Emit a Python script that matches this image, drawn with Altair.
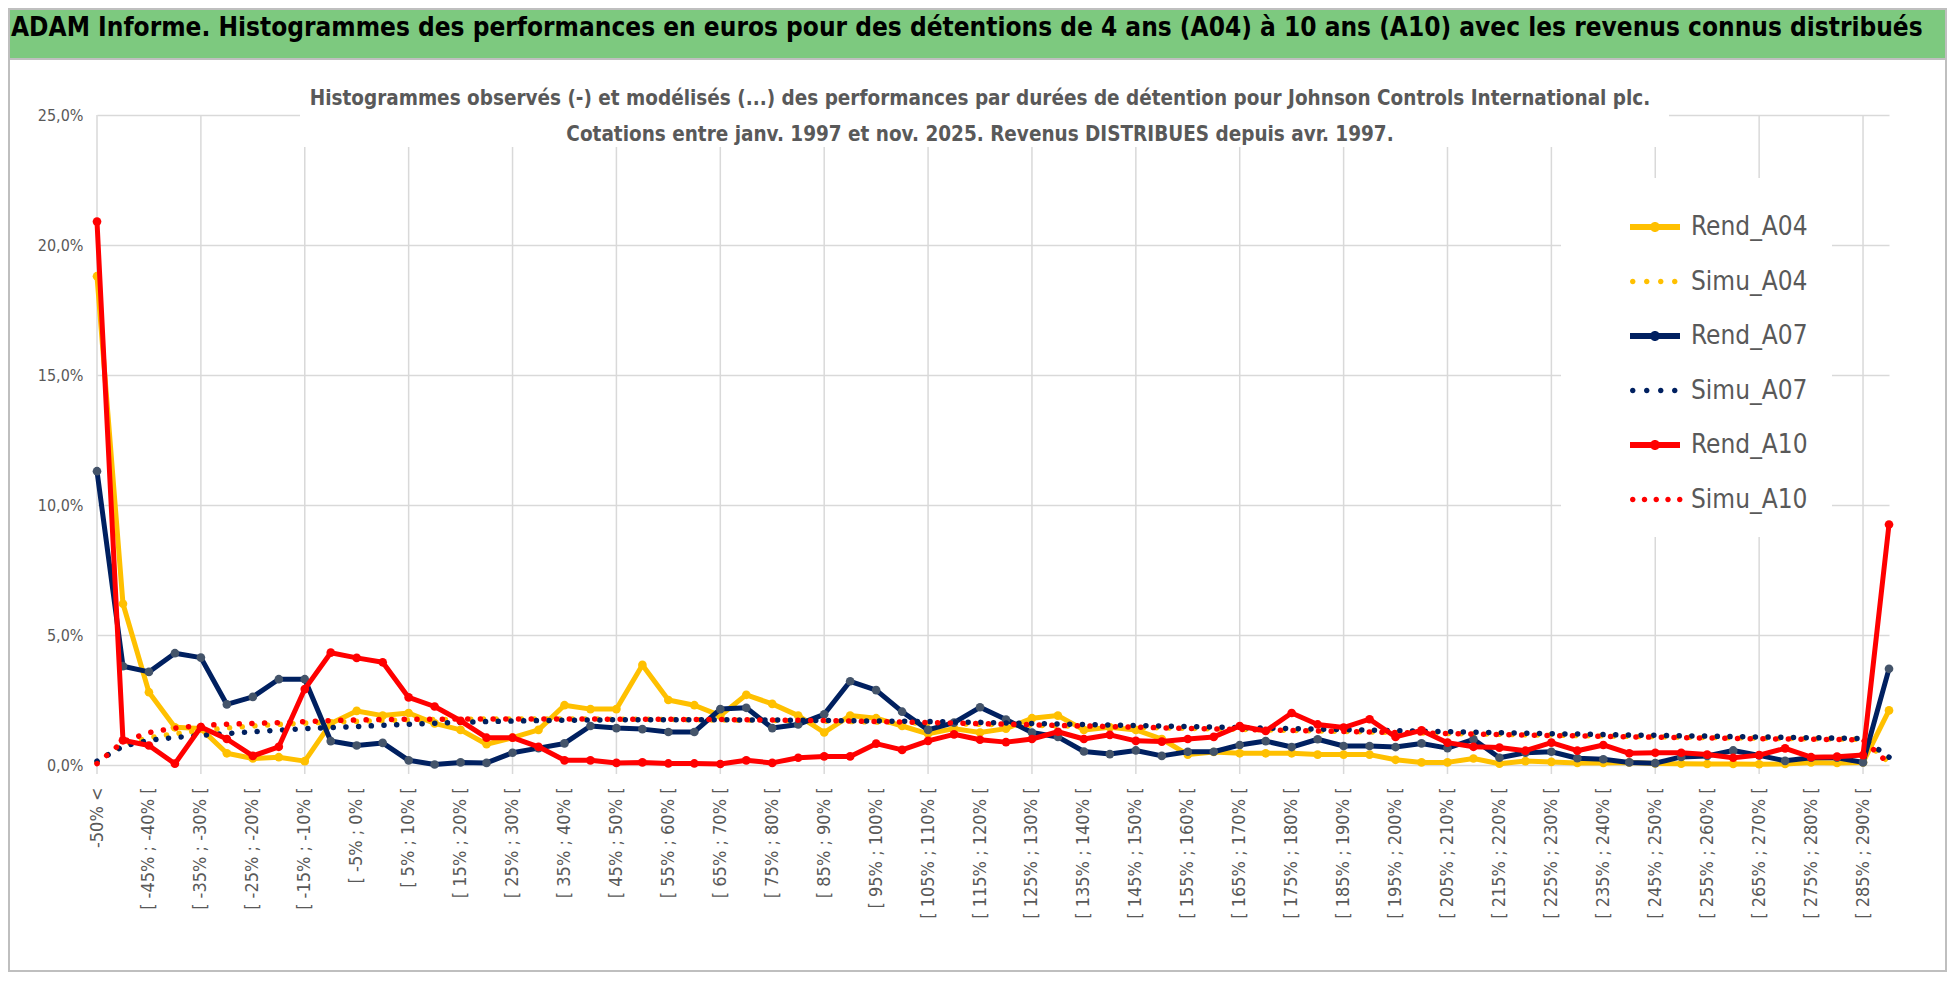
import altair as alt
import pandas as pd

FONT = "Liberation Sans Narrow, DejaVu Sans Condensed, Arial Narrow, sans-serif"

TITLE = ("ADAM Informe. Histogrammes des performances en euros pour des détentions "
         "de 4 ans (A04) à 10 ans (A10) avec les revenus connus distribués")
SUBTITLE = [
    "Histogrammes observés (-) et modélisés (...) des performances par durées de détention pour Johnson Controls International plc.",
    "Cotations entre janv. 1997 et nov. 2025. Revenus DISTRIBUES depuis avr. 1997.",
]

categories = ["-50% <"] + [f"[ {a}% ; {a + 5}% [" for a in range(-50, 290, 5)] + ["290% <"]

series_names = ["Rend_A04", "Simu_A04", "Rend_A07", "Simu_A07", "Rend_A10", "Simu_A10"]
series_colors = ["#FFC000", "#FFC000", "#002060", "#002060", "#FF0000", "#FF0000"]

rend_a04 = [18.8, 6.2, 2.8, 1.45, 1.4, 0.45, 0.25, 0.3, 0.15, 1.6,
            2.08, 1.9, 2.0, 1.6, 1.35, 0.8, 1.05, 1.35, 2.3, 2.15,
            2.15, 3.85, 2.5, 2.3, 1.9, 2.7, 2.35, 1.9, 1.25, 1.9,
            1.8, 1.5, 1.2, 1.4, 1.25, 1.4, 1.8, 1.9, 1.35, 1.45,
            1.35, 1.0, 0.4, 0.5, 0.45, 0.45, 0.45, 0.4, 0.4, 0.4,
            0.2, 0.1, 0.1, 0.25, 0.05, 0.15, 0.12, 0.08, 0.08, 0.1,
            0.06, 0.05, 0.04, 0.04, 0.03, 0.04, 0.1, 0.08, 0.1, 2.1]
simu_a04 = [0.1, 0.8, 1.05, 1.2, 1.32, 1.42, 1.5, 1.56, 1.61, 1.65,
            1.68, 1.71, 1.73, 1.75, 1.76, 1.77, 1.77, 1.77, 1.77, 1.77,
            1.76, 1.76, 1.75, 1.74, 1.73, 1.72, 1.71, 1.7, 1.68, 1.67,
            1.65, 1.63, 1.61, 1.59, 1.57, 1.55, 1.53, 1.51, 1.49, 1.47,
            1.45, 1.43, 1.41, 1.39, 1.37, 1.35, 1.33, 1.31, 1.29, 1.27,
            1.25, 1.23, 1.21, 1.2, 1.18, 1.16, 1.15, 1.13, 1.12, 1.1,
            1.09, 1.07, 1.06, 1.05, 1.03, 1.02, 1.01, 1.0, 0.98, 0.1]
rend_a07 = [11.3, 3.8, 3.58, 4.3, 4.13, 2.33, 2.62, 3.3, 3.3, 0.92,
            0.75, 0.85, 0.18, 0.02, 0.1, 0.08, 0.47, 0.65, 0.83, 1.5,
            1.42, 1.38, 1.27, 1.27, 2.15, 2.2, 1.42, 1.56, 1.95, 3.22,
            2.88, 2.05, 1.35, 1.63, 2.22, 1.75, 1.25, 1.08, 0.52, 0.42,
            0.56, 0.35, 0.51, 0.51, 0.77, 0.92, 0.69, 0.99, 0.73, 0.73,
            0.69, 0.83, 0.65, 0.99, 0.28, 0.47, 0.51, 0.26, 0.22, 0.1,
            0.07, 0.31, 0.35, 0.56, 0.37, 0.16, 0.28, 0.28, 0.1, 3.7]
simu_a07 = [0.15, 0.72, 0.95, 1.06, 1.14, 1.21, 1.28, 1.34, 1.4, 1.44,
            1.48, 1.53, 1.57, 1.61, 1.64, 1.67, 1.69, 1.71, 1.72, 1.73,
            1.74, 1.74, 1.74, 1.74, 1.74, 1.73, 1.73, 1.72, 1.71, 1.7,
            1.69, 1.68, 1.67, 1.65, 1.64, 1.62, 1.6, 1.58, 1.56, 1.54,
            1.52, 1.5, 1.48, 1.46, 1.44, 1.42, 1.4, 1.38, 1.36, 1.34,
            1.32, 1.3, 1.28, 1.26, 1.24, 1.22, 1.2, 1.19, 1.17, 1.15,
            1.14, 1.12, 1.11, 1.09, 1.08, 1.06, 1.05, 1.03, 1.02, 0.3]
rend_a10 = [20.9, 0.95, 0.75, 0.05, 1.46, 1.0, 0.35, 0.7, 2.92, 4.32,
            4.12, 3.95, 2.6, 2.25, 1.7, 1.05, 1.05, 0.7, 0.18, 0.18,
            0.08, 0.1, 0.06, 0.06, 0.04, 0.18, 0.08, 0.28, 0.33, 0.33,
            0.82, 0.58, 0.93, 1.18, 0.97, 0.88, 1.0, 1.28, 1.0, 1.16,
            0.93, 0.9, 1.0, 1.08, 1.5, 1.31, 2.0, 1.56, 1.44, 1.76,
            1.08, 1.33, 0.86, 0.7, 0.67, 0.55, 0.86, 0.55, 0.77, 0.45,
            0.47, 0.47, 0.4, 0.28, 0.38, 0.64, 0.3, 0.32, 0.38, 9.25]
simu_a10 = [0.05, 0.9, 1.25, 1.42, 1.52, 1.57, 1.6, 1.63, 1.67, 1.71,
            1.73, 1.75, 1.76, 1.76, 1.77, 1.77, 1.77, 1.77, 1.77, 1.77,
            1.76, 1.76, 1.76, 1.75, 1.75, 1.74, 1.73, 1.72, 1.71, 1.69,
            1.67, 1.65, 1.63, 1.61, 1.59, 1.57, 1.55, 1.52, 1.5, 1.48,
            1.46, 1.43, 1.41, 1.39, 1.37, 1.35, 1.33, 1.31, 1.29, 1.27,
            1.25, 1.23, 1.21, 1.19, 1.17, 1.15, 1.13, 1.12, 1.1, 1.08,
            1.07, 1.05, 1.04, 1.02, 1.01, 1.0, 0.99, 0.98, 0.96, 0.05]

series_values = [rend_a04, simu_a04, rend_a07, simu_a07, rend_a10, simu_a10]

rows = []
for name, vals in zip(series_names, series_values):
    for i, (c, v) in enumerate(zip(categories, vals)):
        rows.append({"cat": c, "idx": i, "series": name, "value": v})
df = pd.DataFrame(rows)

# ---- styling ----
GRAY_TXT = "#595959"
GRID = "#D9D9D9"
FRAME = "#BFBFBF"
PLOT_W = 1792
PLOT_H = 650
LEFT = 88      # room on the left of the plot (y labels)
RIGHT = 1849   # right edge of header / frame, from plot left
HEAD_H = 50

xscale = alt.Scale(type="point", domain=categories, padding=0)
yscale = alt.Scale(domain=[0, 25], nice=False)

xaxis = alt.Axis(values=categories[::2], labelAngle=-90, labelPadding=22, ticks=False,
                 domain=False, grid=False, labelFontSize=18, labelColor=GRAY_TXT,
                 labelFont=FONT, title=None, labelOverlap=False, labelLimit=300)
yaxis = alt.Axis(values=[0, 5, 10, 15, 20, 25],
                 labelExpr="replace(format(datum.value, '.1f'), '.', ',') + '%'",
                 grid=True, gridColor=GRID, gridWidth=1.5, domain=False, ticks=False,
                 labelPadding=14, labelFontSize=16, labelColor=GRAY_TXT, labelFont=FONT,
                 title=None)

X = alt.X("cat:N", scale=xscale, axis=xaxis)
Y = alt.Y("value:Q", scale=yscale, axis=yaxis)

one = pd.DataFrame({"k": [0]})

# vertical gridlines every 4 categories (running a little below the axis, like ticks)
vgrid = alt.Chart(pd.DataFrame({"cat": categories[::4]})).mark_rule(
    color=GRID, strokeWidth=1.5).encode(x=X, y=alt.value(0), y2=alt.value(PLOT_H + 9))

# white box behind the chart subtitle (hides the top gridline there)
title_box = alt.Chart(one).mark_rect(fill="white").encode(
    x=alt.value(203), x2=alt.value(1572), y=alt.value(-8), y2=alt.value(32))

layers = [vgrid, title_box]
marker_fill = {"Rend_A04": "#FFC000", "Rend_A07": "#44546A", "Rend_A10": "#FF0000"}
for name, col in zip(series_names, series_colors):
    base = alt.Chart(df).transform_filter(alt.datum.series == name)
    if name.startswith("Rend"):
        layers.append(base.mark_line(color=col, strokeWidth=5, strokeJoin="round",
                                     strokeCap="round").encode(x=X, y=Y))
        layers.append(base.mark_circle(size=75, opacity=1, color=marker_fill[name]).encode(x=X, y=Y))
    else:
        layers.append(base.mark_line(color=col, strokeWidth=5.5, strokeCap="round",
                                     strokeDash=[0.1, 12.6]).encode(x=X, y=Y))


def circle_path(cx, r):
    return (f"M{cx - r:.3f},0A{r},{r} 0 1,1 {cx + r:.3f},0"
            f"A{r},{r} 0 1,1 {cx - r:.3f},0Z")


rend_path = "M-1,-0.12H1V0.12H-1Z" + circle_path(0, 0.2)
dots4 = "".join(circle_path(cx, 0.11) for cx in [-0.89, -0.33, 0.23, 0.79])
dots5 = "".join(circle_path(cx, 0.11) for cx in [-0.89, -0.42, 0.05, 0.52, 0.99])
legend_shapes = [rend_path, dots4, rend_path, dots4, rend_path, dots5]

leg = alt.Legend(title=None, orient="none", legendX=1464, legendY=169, fillColor="white",
                 padding=24, symbolSize=2500, symbolStrokeWidth=0, symbolOffset=45,
                 labelFontSize=26, labelColor=GRAY_TXT, labelFont=FONT, rowPadding=16.5,
                 labelOffset=11, labelLimit=300)

legend_layer = alt.Chart(df).transform_filter("false").mark_point(
    filled=True, opacity=1).encode(
    x=X, y=Y,
    color=alt.Color("series:N", scale=alt.Scale(domain=series_names, range=series_colors), legend=leg),
    shape=alt.Shape("series:N", scale=alt.Scale(domain=series_names, range=legend_shapes), legend=leg),
)
layers.append(legend_layer)

main = alt.layer(*layers).properties(
    width=PLOT_W, height=PLOT_H,
    title=alt.TitleParams(text=SUBTITLE, anchor="middle", frame="group", fontSize=20.5,
                          fontWeight="bold", color=GRAY_TXT, font=FONT, lineHeight=36,
                          offset=-38, dx=-13),
)

# green header band across the whole width, and the grey frame of the chart area
band = alt.Chart(one).mark_rect(
    fill="#7DC97F", stroke=FRAME, strokeWidth=2
).encode(x=alt.value(-LEFT), x2=alt.value(RIGHT), y=alt.value(0), y2=alt.value(HEAD_H))
frame = alt.Chart(one).mark_rect(
    fillOpacity=0, stroke=FRAME, strokeWidth=2
).encode(x=alt.value(-LEFT), x2=alt.value(RIGHT), y=alt.value(HEAD_H), y2=alt.value(962))
band_text = alt.Chart(pd.DataFrame({"t": [TITLE]})).mark_text(
    align="left", baseline="middle", font=FONT, fontSize=26, fontWeight="bold", color="black"
).encode(x=alt.value(-LEFT + 2), y=alt.value(19), text="t:N")
header = alt.layer(band, frame, band_text).properties(width=PLOT_W, height=HEAD_H)

chart = alt.vconcat(header, main, spacing=56, bounds="flush").properties(
    padding=0, background="white"
).configure_view(strokeWidth=0)

chart.save("out.html", embed_options={"renderer": "svg", "actions": False})
